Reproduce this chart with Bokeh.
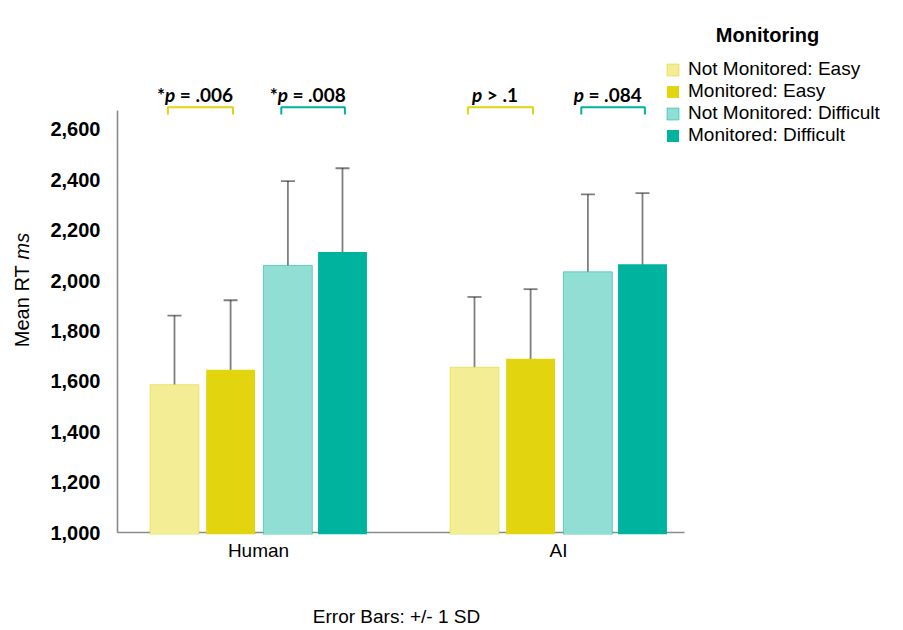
import math
from bokeh.plotting import figure
from bokeh.layouts import row, column
from bokeh.models import (ColumnDataSource, Whisker, TeeHead, FixedTicker, Legend,
                          LegendItem, Label, CanvasTexture, Range1d, NumeralTickFormatter)
from bokeh.core.properties import value
from bokeh.embed import file_html
from bokeh.resources import INLINE

# ---------------- data ----------------
groups = ["Human", "AI"]
series_names = ["Not Monitored: Easy", "Monitored: Easy",
                "Not Monitored: Difficult", "Monitored: Difficult"]
mean_nm_easy = [1587, 1656]
mean_m_easy = [1646, 1690]
mean_nm_diff = [2060, 2035]
mean_m_diff = [2114, 2065]
sd_nm_easy = [274, 279]
sd_m_easy = [276, 276]
sd_nm_diff = [335, 307]
sd_m_diff = [332, 282]
y_ticks = [1000, 1200, 1400, 1600, 1800, 2000, 2200, 2400, 2600]
p_prefix = ["*", "*", "", ""]
p_rest = ["= .006", "= .008", "> .1", "= .084"]
y_title_main = "Mean RT"
y_title_unit = "ms"
caption = "Error Bars: +/- 1 SD"
legend_title = "Monitoring"

# ---------------- styling / layout ----------------
YELLOW = "#E2D50F"
TEAL = "#00B39F"
colors = [YELLOW, YELLOW, TEAL, TEAL]
hatched = [True, False, True, False]
offsets = [-0.28, -0.093, 0.098, 0.28]
BAR_W = 0.163
FONT = "Liberation Sans"

TOTAL_W = 900
TW = 40                  # width of the y-title strip
CH = 36                  # height of the caption strip
W, H = TOTAL_W - TW, 590
FRAME_L_PAGE = 115
FRAME_B_PAGE = 534
ML = FRAME_L_PAGE - TW
MB = H - FRAME_B_PAGE
FW, FH = W - ML, FRAME_B_PAGE
PX_X = 300.0      # px per group unit
PX_Y = 0.2519     # px per ms
X0_PAGE = 258.0   # page x of group 0
Y1000_PAGE = 532.0

def dx(page_x):
    return (page_x - X0_PAGE) / PX_X

def dy(page_y):
    return 1000 + (Y1000_PAGE - page_y) / PX_Y

XS = dx(FRAME_L_PAGE)
XE = XS + FW / PX_X
YS = dy(FRAME_B_PAGE)
YE = YS + FH / PX_Y

p = figure(width=W, height=H, output_backend="svg", toolbar_location=None,
           x_range=Range1d(XS, XE), y_range=Range1d(YS, YE),
           min_border_left=ML, min_border_right=0, min_border_top=0,
           min_border_bottom=MB)
p.outline_line_color = None
p.xgrid.visible = False
p.ygrid.visible = False

# axes
p.yaxis.ticker = FixedTicker(ticks=y_ticks)
p.yaxis.formatter = NumeralTickFormatter(format="0,0")
p.yaxis.axis_line_color = None
p.yaxis.major_tick_line_color = None
p.yaxis.minor_tick_line_color = None
p.yaxis.major_tick_out = 0
p.yaxis.major_label_standoff = 15
p.yaxis.major_label_text_font = FONT
p.yaxis.major_label_text_font_style = "bold"
p.yaxis.major_label_text_font_size = "20px"
p.yaxis.major_label_text_color = "black"

xi = list(range(len(groups)))
p.xaxis.ticker = FixedTicker(ticks=xi)
p.xaxis.major_label_overrides = {i: g for i, g in enumerate(groups)}
p.xaxis.axis_line_color = None
p.xaxis.major_tick_line_color = None
p.xaxis.minor_tick_line_color = None
p.xaxis.major_tick_out = 0
p.xaxis.major_label_standoff = 5
p.xaxis.major_label_text_font = FONT
p.xaxis.major_label_text_font_size = "19px"
p.xaxis.major_label_text_color = "black"

# manual axis lines (plot area only)
AX_X = dx(117)
p.segment(x0=[AX_X, AX_X], y0=[1000, 1000], x1=[dx(684), AX_X], y1=[1000, dy(110)],
          line_color="#8a8a8a", line_width=1.6)

def checker(css):
    return CanvasTexture(code=f"""
ctx.fillStyle = "{css}";
const h = scale / 2;
ctx.fillRect(0, 0, h, h);
ctx.fillRect(h, h, h, h);
""")

means = [mean_nm_easy, mean_m_easy, mean_nm_diff, mean_m_diff]
sds = [sd_nm_easy, sd_m_easy, sd_nm_diff, sd_m_diff]

renderers = []
wb, wu, wl = [], [], []
for k in range(4):
    xs = [i + offsets[k] for i in xi]
    src = ColumnDataSource(dict(x=xs, top=means[k]))
    if hatched[k]:
        r = p.vbar(x="x", top="top", bottom=YS, width=BAR_W, source=src,
                   fill_color="white", line_color=colors[k], line_alpha=0.5, line_width=1,
                   hatch_pattern=value("chk"), hatch_extra={"chk": checker(colors[k])},
                   hatch_color=colors[k], hatch_scale=6)
    else:
        r = p.vbar(x="x", top="top", bottom=YS, width=BAR_W, source=src,
                   fill_color=colors[k], line_color=None)
    renderers.append(r)
    for i in xi:
        wb.append(xs[i])
        wu.append(means[k][i] + sds[k][i])
        wl.append(means[k][i] - sds[k][i])

wsrc = ColumnDataSource(dict(base=wb, upper=wu, lower=wl))
EB = dict(line_color="black", line_alpha=0.5, line_width=1.8)
p.add_layout(Whisker(source=wsrc, base="base", upper="upper", lower="lower",
                     dimension="height", upper_head=TeeHead(size=14, **EB),
                     lower_head=TeeHead(size=14, **EB), **EB))

# significance brackets
b_cols, b_xs, b_ys, t_x = [], [], [], []
y_top, y_tick = dy(106.7), dy(114)
for i in xi:
    for (a, b, c) in [(0, 1, YELLOW), (2, 3, TEAL)]:
        l = i + offsets[a] - 0.022
        r_ = i + offsets[b] + 0.008
        b_xs.append([l, l, r_, r_])
        b_ys.append([y_tick, y_top, y_top, y_tick])
        b_cols.append(c)
        t_x.append((l + r_) / 2 - 6 / PX_X)
p.multi_line(xs=b_xs, ys=b_ys, line_color=b_cols, line_width=2)

# p labels in pieces (approx. Lato Bold advance widths in em)
FS = 19
cw = {"*": 0.42, "p": 0.58, " ": 0.2, "=": 0.58, ">": 0.58, ".": 0.22}
def tw(s):
    return sum(cw.get(ch, 0.58) for ch in s) * FS

pre_off, p_off, rest_off = [], [], []
for pre, rest in zip(p_prefix, p_rest):
    total = tw(pre) + tw("p") + tw(" ") + tw(rest)
    start = -total / 2
    pre_off.append(start)
    p_off.append(start + tw(pre))
    rest_off.append(start + tw(pre) + tw("p") + tw(" "))
ty = [dy(94.3)] * len(t_x)
common = dict(text_font=value("Lato"), text_font_size=f"{FS}px", text_baseline="alphabetic",
              text_align="left", text_color="black")
p.text(x=t_x, y=ty, text=p_prefix, x_offset=pre_off, text_font_style="bold", **common)
p.text(x=t_x, y=ty, text=["p"] * len(t_x), x_offset=p_off, text_font_style="bold italic", **common)
p.text(x=t_x, y=ty, text=p_rest, x_offset=rest_off, text_font_style="bold", **common)

# legend
legend = Legend(items=[LegendItem(label=n, renderers=[r]) for n, r in zip(series_names, renderers)],
                location=(550, 388), border_line_color=None, background_fill_alpha=0,
                padding=0, margin=0, spacing=-1, glyph_width=15, glyph_height=15,
                label_standoff=8, label_height=15, label_text_font=FONT,
                label_text_font_size="19px", label_text_color="black")
p.add_layout(legend)
p.add_layout(Label(x=dx(767), y=dy(34.3), text=legend_title, text_font=FONT,
                   text_font_style="bold", text_font_size="20px", text_align="center",
                   text_baseline="alphabetic", text_color="black"))

# y-axis title strip (mixed normal / italic); frame aligned with main frame
t = figure(width=TW, height=H, output_backend="svg", toolbar_location=None,
           x_range=Range1d(0, TW), y_range=Range1d(0, FRAME_B_PAGE),
           min_border_left=0, min_border_right=0, min_border_top=0, min_border_bottom=MB)
t.axis.visible = False
t.grid.visible = False
t.outline_line_color = None
YT_FS = 20
base_y = FRAME_B_PAGE - 346.7
main_w = 4.39 * YT_FS
t.text(x=[21.5], y=[base_y], text=[y_title_main], angle=math.pi / 2,
       text_font=value(FONT), text_font_size=f"{YT_FS}px", text_align="left",
       text_baseline="middle", text_color="black")
t.text(x=[21.5], y=[base_y + main_w], text=[y_title_unit], angle=math.pi / 2,
       text_font=value(FONT), text_font_style="italic", text_font_size=f"{YT_FS}px",
       text_align="left", text_baseline="middle", text_color="black")

# caption strip below
c = figure(width=TOTAL_W, height=CH, output_backend="svg", toolbar_location=None,
           x_range=Range1d(0, TOTAL_W), y_range=Range1d(0, CH),
           min_border_left=0, min_border_right=0, min_border_top=0, min_border_bottom=0)
c.axis.visible = False
c.grid.visible = False
c.outline_line_color = None
c.text(x=[396], y=[CH / 2 - 8], text=[caption], text_font=value(FONT),
       text_font_size="19px", text_align="center", text_baseline="middle",
       text_color="black")

layout = column(row(t, p, spacing=0), c, spacing=0)
open("out.html", "w").write(file_html(layout, INLINE))
